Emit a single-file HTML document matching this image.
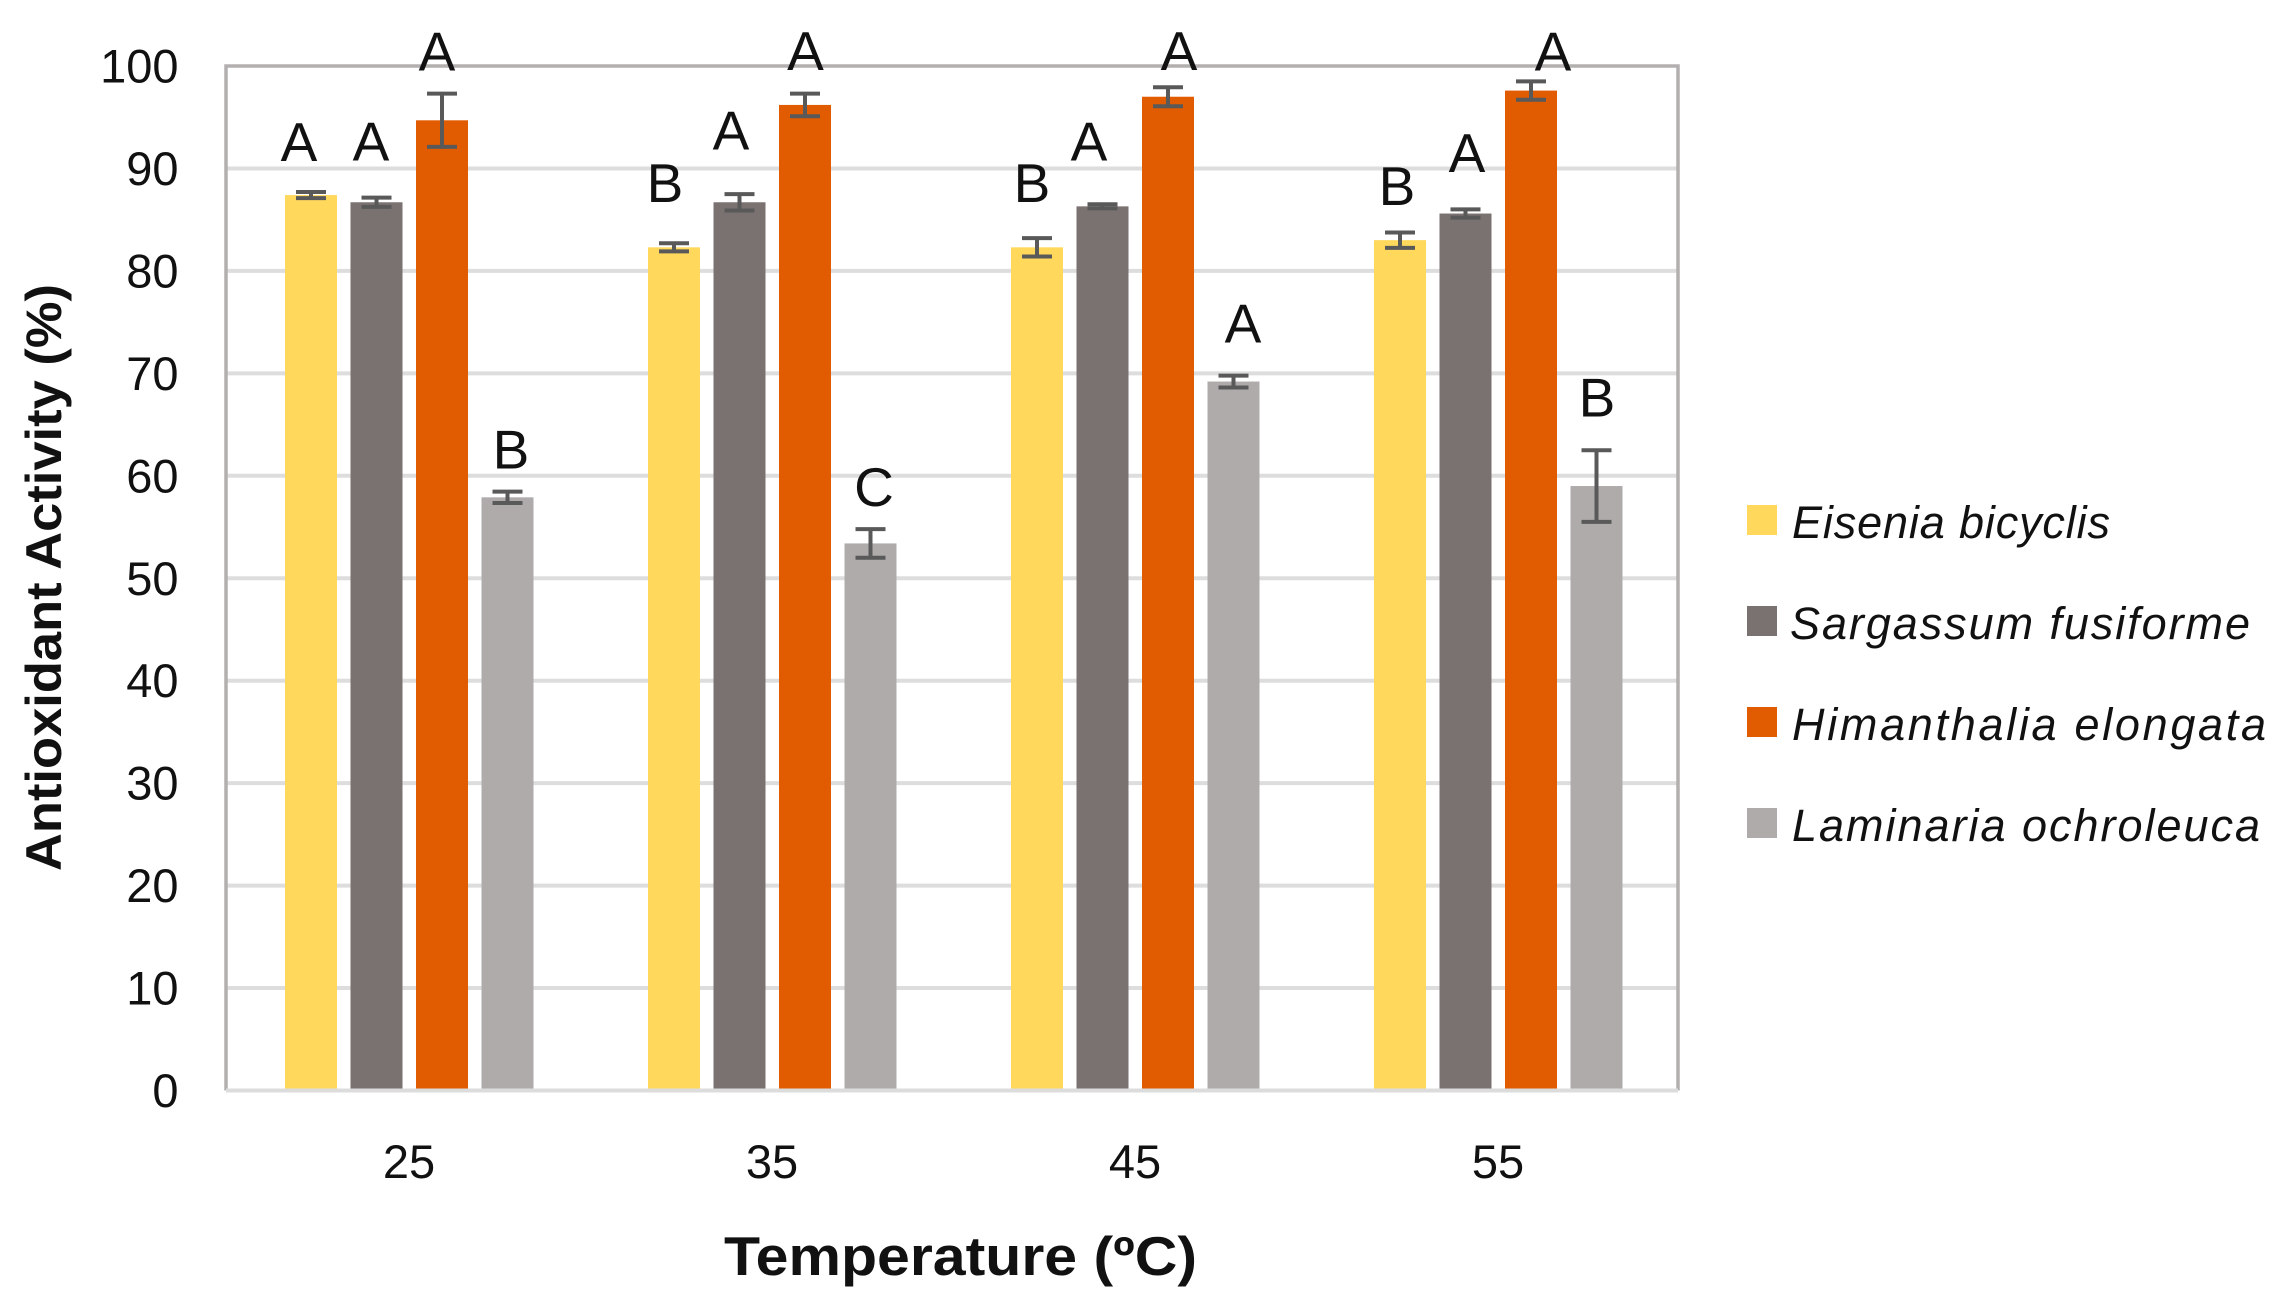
<!DOCTYPE html>
<html lang="en">
<head>
<meta charset="utf-8">
<title>Antioxidant Activity by Temperature</title>
<style>
html,body{margin:0;padding:0;background:#fff;}
svg{display:block;font-family:"Liberation Sans",sans-serif;}
text{fill:#111;}
</style>
</head>
<body>
<svg id="chart" xmlns="http://www.w3.org/2000/svg" width="2284" height="1315" viewBox="0 0 2284 1315">
  <rect x="0" y="0" width="2284" height="1315" fill="#ffffff"/>
  <g id="grid"></g>
  <g id="bars"></g>
  <g id="errors"></g>
  <g id="axes"></g>
  <g id="ticks"></g>
  <g id="letters" font-size="55" text-anchor="middle">
    <text data-c="0" data-s="0" dx="-12" dy="-31">A</text>
    <text data-c="0" data-s="1" dx="-5.5" dy="-37">A</text>
    <text data-c="0" data-s="2" dx="-5" dy="-23">A</text>
    <text data-c="0" data-s="3" dx="3.5" dy="-23">B</text>
    <text data-c="1" data-s="0" dx="-9" dy="-41">B</text>
    <text data-c="1" data-s="1" dx="-8.5" dy="-44.5">A</text>
    <text data-c="1" data-s="2" dx="0.5" dy="-23.5">A</text>
    <text data-c="1" data-s="3" dx="3.5" dy="-23">C</text>
    <text data-c="2" data-s="0" dx="-5" dy="-36">B</text>
    <text data-c="2" data-s="1" dx="-13.5" dy="-44">A</text>
    <text data-c="2" data-s="2" dx="11" dy="-17">A</text>
    <text data-c="2" data-s="3" dx="9.5" dy="-33">A</text>
    <text data-c="3" data-s="0" dx="-3" dy="-27.5">B</text>
    <text data-c="3" data-s="1" dx="1.5" dy="-37.5">A</text>
    <text data-c="3" data-s="2" dx="22" dy="-11">A</text>
    <text data-c="3" data-s="3" dx="0.5" dy="-33.5">B</text>
  </g>
  <text transform="translate(61,871) rotate(-90)" font-size="50" font-weight="bold" textLength="587" lengthAdjust="spacingAndGlyphs">Antioxidant Activity (%)</text>
  <text x="724" y="1275" font-size="55" font-weight="bold" textLength="473" lengthAdjust="spacingAndGlyphs">Temperature (ºC)</text>
  <g id="legend">
    <g>
      <rect x="1747" y="505" width="30" height="30" fill="#FFD85C"/>
      <text x="1792" y="538" font-size="45" font-style="italic" textLength="318" lengthAdjust="spacing">Eisenia bicyclis</text>
    </g>
    <g>
      <rect x="1747" y="606" width="30" height="30" fill="#7A7271"/>
      <text x="1790" y="639" font-size="45" font-style="italic" textLength="460" lengthAdjust="spacing">Sargassum fusiforme</text>
    </g>
    <g>
      <rect x="1747" y="707" width="30" height="30" fill="#E15B00"/>
      <text x="1792" y="740" font-size="45" font-style="italic" textLength="474" lengthAdjust="spacing">Himanthalia elongata</text>
    </g>
    <g>
      <rect x="1747" y="808" width="30" height="30" fill="#AFABAB"/>
      <text x="1792" y="841" font-size="45" font-style="italic" textLength="468" lengthAdjust="spacing">Laminaria ochroleuca</text>
    </g>
  </g>
</svg>
<script>
const categories = ["25", "35", "45", "55"];
const yTickLabels = [0, 10, 20, 30, 40, 50, 60, 70, 80, 90, 100];
const seriesNames = ["eisenia-bicyclis", "sargassum-fusiforme", "himanthalia-elongata", "laminaria-ochroleuca"];
const eiseniaValues = [87.4, 82.3, 82.3, 83.0];
const sargassumValues = [86.7, 86.7, 86.3, 85.6];
const himanthaliaValues = [94.7, 96.2, 97.0, 97.6];
const laminariaValues = [57.9, 53.4, 69.2, 59.0];
const eiseniaErrors = [0.3, 0.4, 0.9, 0.75];
const sargassumErrors = [0.45, 0.8, 0.2, 0.4];
const himanthaliaErrors = [2.6, 1.1, 0.93, 0.9];
const laminariaErrors = [0.55, 1.4, 0.58, 3.5];

const SVGNS = "http://www.w3.org/2000/svg";
const plotLeft = 226, plotRight = 1678, plotTop = 66, plotBottom = 1090.5;
const yMax = 100;
const bandWidth = (plotRight - plotLeft) / categories.length;
const groupInset = 59, barWidth = 52, barStep = 65.5, capHalf = 15;
const seriesValues = [eiseniaValues, sargassumValues, himanthaliaValues, laminariaValues];
const seriesErrors = [eiseniaErrors, sargassumErrors, himanthaliaErrors, laminariaErrors];
const seriesColors = ["#FFD85C", "#7A7271", "#E15B00", "#AFABAB"];

function yScale(v) { return plotBottom - (plotBottom - plotTop) * v / yMax; }
function barCenter(c, s) { return plotLeft + bandWidth * c + groupInset + barWidth / 2 + barStep * s; }
function bandCenter(c) { return plotLeft + bandWidth * (c + 0.5); }
function make(tag, attrs) {
  const el = document.createElementNS(SVGNS, tag);
  for (const k in attrs) el.setAttribute(k, attrs[k]);
  return el;
}

const gridG = document.getElementById("grid");
const barsG = document.getElementById("bars");
const errorsG = document.getElementById("errors");
const axesG = document.getElementById("axes");
const ticksG = document.getElementById("ticks");

yTickLabels.forEach(function (t) {
  if (t > 0 && t < yMax) {
    const g = make("line", { x1: plotLeft, x2: plotRight, y1: yScale(t), y2: yScale(t), stroke: "#DDDDDD", "stroke-width": 4 });
    
    
    gridG.appendChild(g);
  }
  const label = make("text", { x: 178.5, y: yScale(t) + 16.5, "text-anchor": "end", "font-size": 47 });
  label.textContent = t;
  
  
  ticksG.appendChild(label);
});

categories.forEach(function (cat, c) {
  const label = make("text", { x: bandCenter(c) + 1.5, y: 1178, "text-anchor": "middle", "font-size": 47 });
  label.textContent = cat;
  
  
  ticksG.appendChild(label);

  seriesValues.forEach(function (values, s) {
    const cx = barCenter(c, s);
    const top = yScale(values[c]);
    const bar = make("rect", { x: cx - barWidth / 2, y: top, width: barWidth, height: plotBottom - top, fill: seriesColors[s] });
    
    
    barsG.appendChild(bar);

    const hi = yScale(values[c] + seriesErrors[s][c]);
    const lo = yScale(values[c] - seriesErrors[s][c]);
    const d = "M" + (cx - capHalf) + " " + hi + "H" + (cx + capHalf) +
              "M" + cx + " " + hi + "V" + lo +
              "M" + (cx - capHalf) + " " + lo + "H" + (cx + capHalf);
    const err = make("path", { d: d, stroke: "#595959", "stroke-width": 4, fill: "none" });
    
    
    errorsG.appendChild(err);
  });
});

const frame = make("path", {
  d: "M" + plotLeft + " " + plotBottom + "V" + plotTop + "H" + plotRight + "V" + plotBottom,
  stroke: "#B4AFAF", "stroke-width": 3.5, fill: "none"
});


axesG.appendChild(frame);

const baseline = make("line", { x1: plotLeft, x2: plotRight, y1: plotBottom, y2: plotBottom, stroke: "#DCDCDC", "stroke-width": 4 });


axesG.appendChild(baseline);

document.querySelectorAll("#letters text").forEach(function (t) {
  const c = +t.getAttribute("data-c");
  const s = +t.getAttribute("data-s");
  t.setAttribute("x", barCenter(c, s));
  t.setAttribute("y", yScale(seriesValues[s][c] + seriesErrors[s][c]));
});
</script>
</body>
</html>
